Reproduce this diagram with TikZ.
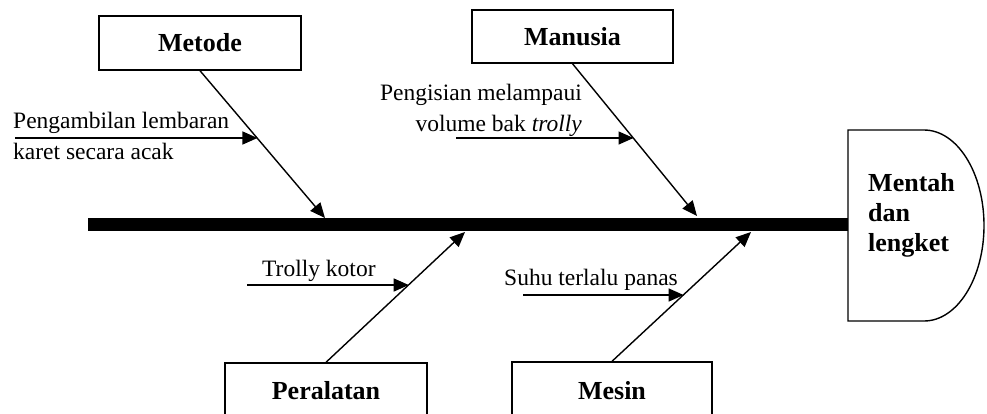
\documentclass[tikz,border=0pt]{standalone}
\usepackage{fontspec}
\setmainfont{Liberation Serif}
\usetikzlibrary{arrows.meta,calc}
\begin{document}
\begin{tikzpicture}[x=1pt,y=-1pt,
  cause/.style={draw, line width=1.4pt, minimum width=202pt, inner sep=0pt,
    font=\fontsize{26}{30}\selectfont\bfseries},
  bone/.style={line width=1.4pt, -{Triangle[length=15pt,width=13pt]}},
  sub/.style={inner sep=0pt, font=\fontsize{23.5}{31}\selectfont},
]
\useasboundingbox (0,0) rectangle (987,413);

% head (effect)
\draw[line width=1.4pt] (848,130) -- (924,130)
  arc[start angle=90, end angle=-90, x radius=60pt, y radius=95.5pt]
  -- (848,321) -- cycle;
\node[anchor=north west, inner sep=0pt, align=left,
  font=\fontsize{26}{30}\selectfont\bfseries] (effect) at (868,173) {Mentah\\dan\\lengket};

% spine
\coordinate (s0) at (88,224.5);
\coordinate (dleft) at (848,224.5);
\draw[line width=13pt] (s0) -- (dleft);

% category boxes
\node[cause, minimum height=54pt] (metode) at (200,43) {Metode};
\node[cause, minimum height=53pt, minimum width=201pt] (manusia) at (572.5,36.5) {Manusia};
\node[cause, minimum height=56pt] (peralatan) at (326,391) {Peralatan};
\node[cause, minimum height=58pt, minimum width=200pt] (mesin) at (612,391) {Mesin};

% main bones
\coordinate (t1) at (325,218);
\coordinate (t2) at (697,216);
\coordinate (t3) at (465,232);
\coordinate (t4) at (751,232);
\draw[bone] (metode.south) -- (t1);
\draw[bone] (manusia.south) -- (t2);
\draw[bone] (peralatan.north) -- (t3);
\draw[bone] (mesin.north) -- (t4);

% sub-cause arrows
\coordinate (h1) at (15,138);
\coordinate (p1) at ($(metode.south)!0.4595!(t1)$);
\draw[bone] (h1) -- (h1 -| p1);
\coordinate (h2) at (456,138);
\coordinate (p2) at ($(manusia.south)!0.49!(t2)$);
\draw[bone] (h2) -- (h2 -| p2);
\coordinate (h3) at (247,285);
\coordinate (p3) at ($(peralatan.north)!0.595!(t3)$);
\draw[bone] (h3) -- (h3 -| p3);
\coordinate (h4) at (523,295);
\coordinate (p4) at ($(mesin.north)!0.515!(t4)$);
\draw[bone] (h4) -- (h4 -| p4);

% sub-cause labels
\node[sub, align=left, anchor=north west] (c1) at (13,111.8) {Pengambilan lembaran\\karet secara acak};
\node[sub, align=right, anchor=north east] (c2) at (582,83.8) {Pengisian melampaui\\volume bak \textit{trolly}};
\node[sub, anchor=base west] (c3) at (262,276) {Trolly kotor};
\node[sub, anchor=base west] (c4) at (504,285) {Suhu terlalu panas};
\end{tikzpicture}
\end{document}
